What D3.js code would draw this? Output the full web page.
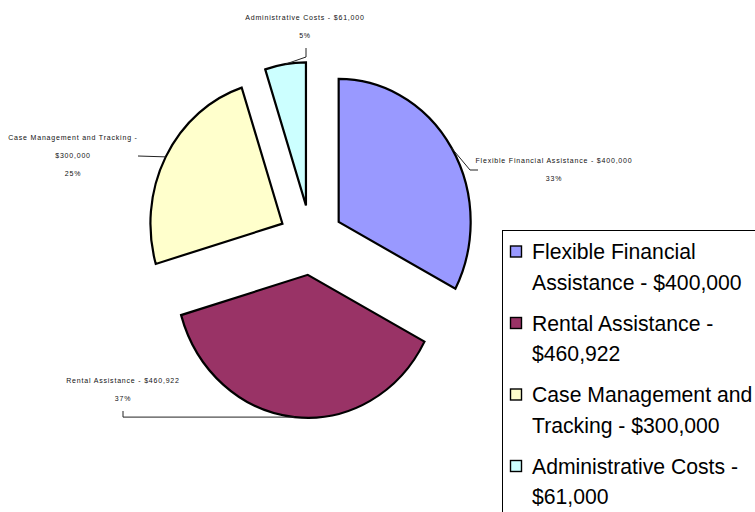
<!DOCTYPE html>
<html>
<head>
<meta charset="utf-8">
<script src="https://cdn.jsdelivr.net/npm/d3@7"></script>
<style>
  body { margin: 0; background: #fff; }
  svg { display: block; font-family: "Liberation Sans", Arial, sans-serif; }
</style>
</head>
<body>
<svg id="chart" width="755" height="512"></svg>
<script>
// chart data
var categories = ["Flexible Financial Assistance", "Rental Assistance", "Case Management and Tracking", "Administrative Costs"];
var amounts = [400000, 460922, 300000, 61000];
var amountLabels = ["$400,000", "$460,922", "$300,000", "$61,000"];
var percentLabels = ["33%", "37%", "25%", "5%"];
var colors = ["#9999ff", "#993366", "#ffffcc", "#ccffff"];
// how the text wraps in the legend and on the slice labels
var legendLines = [
  ["Flexible Financial", "Assistance - $400,000"],
  ["Rental Assistance -", "$460,922"],
  ["Case Management and", "Tracking - $300,000"],
  ["Administrative Costs -", "$61,000"]
];
var sliceLabelLines = [
  ["Flexible Financial Assistance - $400,000", "33%"],
  ["Rental Assistance - $460,922", "37%"],
  ["Case Management and Tracking -", "$300,000", "25%"],
  ["Administrative Costs - $61,000", "5%"]
];

var svg = d3.select("#chart");

// pie geometry (the excel pie is a bit squashed sideways)
var cx = 311, cy = 240;
var ry = 143, rx = 132;
var sx = rx / ry;
var explode = 35;

var pie = d3.pie().sort(null).value(function(d) { return d; });
var arcs = pie(amounts);
var arc = d3.arc().innerRadius(0).outerRadius(ry);

function midAngle(d) { return (d.startAngle + d.endAngle) / 2; }

// point in page coords for a slice at given angle & radius (after explode)
function slicePoint(d, r) {
  var a = midAngle(d);
  var ox = explode * Math.sin(a), oy = -explode * Math.cos(a);
  return [cx + (ox + r * Math.sin(a)) * sx, cy + oy - r * Math.cos(a)];
}

var pieG = svg.append("g")
  .attr("transform", "translate(" + cx + "," + cy + ") scale(" + sx + ",1)");

pieG.selectAll("path.slice")
  .data(arcs)
  .enter().append("path")
  .attr("class", "slice")
  .attr("d", arc)
  .attr("transform", function(d) {
    var a = midAngle(d);
    return "translate(" + (explode * Math.sin(a)) + "," + (-explode * Math.cos(a)) + ")";
  })
  .attr("fill", function(d, i) { return colors[i]; })
  .attr("stroke", "#000")
  .attr("stroke-width", 2.2)
  .attr("stroke-linejoin", "miter")
  .attr("vector-effect", "non-scaling-stroke");

// data labels: x center, first baseline, leader start points
var labelPos = [
  {x: 554, y: 162.5, leader: [[478, 170], [470, 170]]},
  {x: 123, y: 382.5, leader: [[123, 411], [123, null]]},
  {x: 73,  y: 139.5, leader: [[138, 156]]},
  {x: 305, y: 19.5,  leader: [[306, 48], [306, 57]]}
];

arcs.forEach(function(d, i) {
  var lp = labelPos[i];
  var end = slicePoint(d, ry);
  var pts = lp.leader.map(function(p) { return [p[0], p[1] === null ? end[1] : p[1]]; });
  pts.push(end);
  svg.append("path")
    .attr("d", d3.line()(pts))
    .attr("fill", "none")
    .attr("stroke", "#222")
    .attr("stroke-width", 1);

  var t = svg.append("text")
    .attr("text-anchor", "middle")
    .attr("font-size", 7)
    .attr("letter-spacing", 0.8)
    .attr("fill", "#111");
  sliceLabelLines[i].forEach(function(line, j) {
    t.append("tspan").attr("x", lp.x).attr("y", lp.y + j * 18).text(line);
  });
});

// legend
var legX = 502, legY = 230;
var itemGap = 71.5, lineGap = 30.5;
svg.append("rect")
  .attr("x", legX + 0.5).attr("y", legY + 0.5)
  .attr("width", 300).attr("height", 320)
  .attr("fill", "#fff")
  .attr("stroke", "#000")
  .attr("stroke-width", 1);

var legItems = svg.selectAll("g.leg")
  .data(categories)
  .enter().append("g")
  .attr("class", "leg")
  .attr("transform", function(d, i) { return "translate(0," + (i * itemGap) + ")"; });

legItems.append("rect")
  .attr("x", 510.5).attr("y", 246)
  .attr("width", 11).attr("height", 11)
  .attr("fill", function(d, i) { return colors[i]; })
  .attr("stroke", "#000")
  .attr("stroke-width", 1.4);

legItems.each(function(d, i) {
  var t = d3.select(this).append("text")
    .attr("font-size", 21.2)
    .attr("fill", "#000");
  legendLines[i].forEach(function(line, j) {
    t.append("tspan").attr("x", 532).attr("y", 259 + j * lineGap).text(line);
  });
});
</script>
</body>
</html>
